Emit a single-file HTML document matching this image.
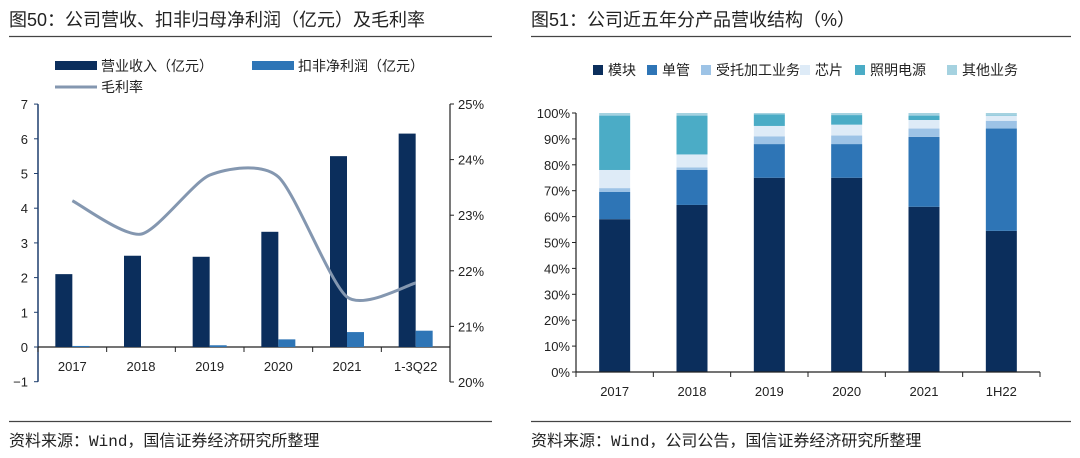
<!DOCTYPE html>
<html><head><meta charset="utf-8"><style>
body{margin:0;background:#fff;}
svg{display:block;font-family:"Liberation Sans","Noto Sans CJK SC",sans-serif;}
</style></head><body>
<svg id="svg" width="1080" height="458" viewBox="0 0 1080 458">
<text x="9" y="26" font-size="18" fill="#222">图50：公司营收、扣非归母净利润（亿元）及毛利率</text>
<line x1="9" y1="36.5" x2="492" y2="36.5" stroke="#444" stroke-width="1.2"/>
<text x="531" y="26" font-size="18" fill="#222">图51：公司近五年分产品营收结构（%）</text>
<line x1="531" y1="36.5" x2="1071" y2="36.5" stroke="#444" stroke-width="1.2"/>
<line x1="9" y1="421.5" x2="492" y2="421.5" stroke="#444" stroke-width="1.2"/>
<line x1="531" y1="421.5" x2="1071" y2="421.5" stroke="#444" stroke-width="1.2"/>
<text x="9" y="446" font-size="16" fill="#222">资料来源：<tspan font-family="Liberation Mono">Wind</tspan>，国信证券经济研究所整理</text>
<text x="531" y="446" font-size="16" fill="#222">资料来源：<tspan font-family="Liberation Mono">Wind</tspan>，公司公告，国信证券经济研究所整理</text>
<g id="left"></g>
<g id="right"></g>
</svg>
<script>
const leftCats=['2017','2018','2019','2020','2021','1-3Q22'];
const revenue=[2.1,2.63,2.6,3.32,5.5,6.15];
const profit=[0.03,0.0,0.05,0.22,0.43,0.47];
const margin=[23.26,22.66,23.72,23.69,21.53,21.78];
const leftTicks=[-1,0,1,2,3,4,5,6,7];
const rightTicks=[20,21,22,23,24,25];

const rightCats=['2017','2018','2019','2020','2021','1H22'];
const seriesNames=['模块','单管','受托加工业务','芯片','照明电源','其他业务'];
const sModule=[59,64.5,75,75,63.8,54.5];
const sSingle=[10.5,13.5,13,13,27,39.5];
const sOEM=[1.5,1,3,3.3,3.2,3];
const sChip=[7,5,4,4.2,3.3,2];
const sLight=[21,15,4.5,3.7,1.7,0.2];
const sOther=[1,1,0.5,0.8,1,0.8];

const NS='http://www.w3.org/2000/svg';
function mk(parent,tag,attrs,txt){const e=document.createElementNS(NS,tag);for(const k in attrs)e.setAttribute(k,attrs[k]);if(txt!==undefined)e.textContent=txt;parent.appendChild(e);return e;}

// LEFT CHART
const L=document.getElementById('left');
const lx0=38,lx1=450,ly=v=>347-(v)*34.7,ry=p=>382-(p-20)*55.6;
const lband=(lx1-lx0)/leftCats.length;
const lxc=i=>lx0+lband*(i+0.5);
let e;
e=mk(L,'rect',{x:55,y:61,width:42,height:9,fill:'#0b2e5c'});

e=mk(L,'text',{x:101,y:71,'font-size':14,fill:'#222'},'营业收入（亿元）');

e=mk(L,'rect',{x:252,y:61,width:42,height:9,fill:'#2e75b6'});

e=mk(L,'text',{x:298,y:71,'font-size':14,fill:'#222'},'扣非净利润（亿元）');

e=mk(L,'line',{x1:55,y1:87,x2:97,y2:87,stroke:'#8497b0','stroke-width':3});

e=mk(L,'text',{x:101,y:92,'font-size':14,fill:'#222'},'毛利率');

e=mk(L,'line',{x1:lx0,y1:ly(7),x2:lx0,y2:ly(-1),stroke:'#1f3f6e','stroke-width':1.5});

leftTicks.forEach(t=>{mk(L,'line',{x1:lx0,y1:ly(t),x2:lx0-4,y2:ly(t),stroke:'#1f3f6e'});
 e=mk(L,'text',{x:lx0-10,y:ly(t)+5,'font-size':13,fill:'#222','text-anchor':'end'},t===-1?'−1':String(t));
 });
e=mk(L,'line',{x1:lx1,y1:ry(25),x2:lx1,y2:ry(20),stroke:'#222','stroke-width':1.2});

rightTicks.forEach(t=>{mk(L,'line',{x1:lx1,y1:ry(t),x2:lx1+4,y2:ry(t),stroke:'#222'});
 e=mk(L,'text',{x:lx1+8,y:ry(t)+5,'font-size':13,fill:'#222'},t+'%');
 });
e=mk(L,'line',{x1:lx0,y1:ly(0),x2:lx1,y2:ly(0),stroke:'#222','stroke-width':1.2});

for(let i=0;i<=leftCats.length;i++)mk(L,'line',{x1:lx0+lband*i,y1:ly(0),x2:lx0+lband*i,y2:ly(0)+5,stroke:'#222'});
leftCats.forEach((c,i)=>{
 const cx=lxc(i);
 e=mk(L,'rect',{x:cx-17,y:ly(revenue[i]),width:17,height:ly(0)-ly(revenue[i]),fill:'#0b2e5c'});
 
 e=mk(L,'rect',{x:cx,y:ly(profit[i]),width:17,height:ly(0)-ly(profit[i]),fill:'#2e75b6'});
 
 e=mk(L,'text',{x:cx,y:ly(0)+24,'font-size':13,fill:'#222','text-anchor':'middle'},c);
 
});
const pts=margin.map((m,i)=>[lxc(i),ry(m)]);
let d='M'+pts[0][0]+','+pts[0][1];
for(let i=0;i<pts.length-1;i++){const p0=pts[i-1]||pts[i],p1=pts[i],p2=pts[i+1],p3=pts[i+2]||p2;const t=0.12;
 d+=` C${p1[0]+(p2[0]-p0[0])*t},${p1[1]+(p2[1]-p0[1])*t} ${p2[0]-(p3[0]-p1[0])*t},${p2[1]-(p3[1]-p1[1])*t} ${p2[0]},${p2[1]}`;}
e=mk(L,'path',{d:d,fill:'none',stroke:'#8497b0','stroke-width':3});


// RIGHT CHART
const R=document.getElementById('right');
const colors=['#0b2e5c','#2e75b6','#9dc3e6','#deebf7','#4bacc6','#a5d2e0'];
const series=[sModule,sSingle,sOEM,sChip,sLight,sOther];
const rx0=576,rx1=1040,py=p=>372-p*2.59;
const rband=(rx1-rx0)/rightCats.length;
const legX=[593,647,701,800,855,947];
seriesNames.forEach((n,k)=>{
 e=mk(R,'rect',{x:legX[k],y:65,width:10,height:10,fill:colors[k]});
 
 e=mk(R,'text',{x:legX[k]+15,y:75,'font-size':14,fill:'#222'},n);
 
});
for(let t=0;t<=100;t+=10){
 mk(R,'line',{x1:rx0,y1:py(t),x2:rx0-4,y2:py(t),stroke:'#222'});
 e=mk(R,'text',{x:rx0-6,y:py(t)+5,'font-size':13,fill:'#222','text-anchor':'end'},t+'%');
 
}
e=mk(R,'line',{x1:rx0,y1:py(100),x2:rx0,y2:py(0),stroke:'#222','stroke-width':1.2});

rightCats.forEach((c,i)=>{
 const cx=rx0+rband*(i+0.5);let acc=0;
 series.forEach((s,k)=>{
  e=mk(R,'rect',{x:cx-15.5,y:py(acc+s[i]),width:31,height:py(acc)-py(acc+s[i]),fill:colors[k]});
  
  acc+=s[i];});
 e=mk(R,'text',{x:cx,y:py(0)+24,'font-size':13,fill:'#222','text-anchor':'middle'},c);
 
});
e=mk(R,'line',{x1:rx0,y1:py(0),x2:rx1,y2:py(0),stroke:'#222','stroke-width':1.2});

for(let i=0;i<=rightCats.length;i++)mk(R,'line',{x1:rx0+rband*i,y1:py(0),x2:rx0+rband*i,y2:py(0)+5,stroke:'#222'});
</script>
</body></html>
